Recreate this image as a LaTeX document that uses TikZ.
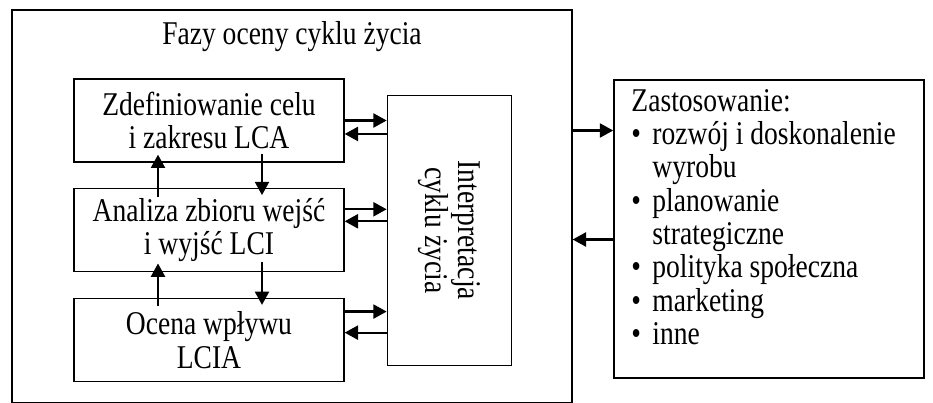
\documentclass[tikz,border=0pt]{standalone}
\usepackage{fontspec}
\setmainfont{Liberation Serif}[FakeStretch=0.83]
\usetikzlibrary{positioning,arrows.meta}

\newcommand{\pkt}{\makebox[15.75pt][l]{\textbullet}}
\newcommand{\wcz}{\hspace*{15.75pt}}

\begin{document}
\begin{tikzpicture}[
  x=0.75pt, y=-0.75pt,
  font=\fontsize{24.9pt}{25pt}\selectfont,
  frame/.style={draw, line width=1pt, minimum width=420pt, minimum height=294.75pt, inner sep=0pt},
  phase/.style={draw, line width=1pt, align=center, minimum width=202.5pt,
    minimum height=62.25pt, inner sep=0pt},
  interp/.style={draw, line width=1pt, minimum width=93pt, minimum height=202.5pt, inner sep=0pt},
  usebox/.style={draw, line width=1.2pt, minimum width=232.5pt, minimum height=223.5pt, inner sep=0pt},
  flow/.style={-{Triangle[length=10pt,width=10.5pt]}, line width=1.7pt},
  >=Triangle
]
\useasboundingbox (0,0) rectangle (933,403);
\node[frame] (frame) at (292,206.5) {};
\node (title) at (292,37) {Fazy oceny cyklu życia};
\node[phase] (def) at (209,120.5) {Zdefiniowanie celu\\i zakresu LCA};
\node[phase, below=19.1pt of def] (inv) {Analiza zbioru wejść\\i wyjść LCI};
\node[phase, below=19.1pt of inv] (imp) {Ocena wpływu\\LCIA};
\node[interp, right=31.5pt of inv] (interp) {};
\node[rotate=-90, align=center] (interptxt) at (interp) {Interpretacja\\cyklu życia};
\node[usebox] (zast) at (769,229) {};
\node[anchor=north west, align=left, inner sep=0pt] (zastlist)
  at ([xshift=13.5pt, yshift=-7.3pt]zast.north west)
  {Zastosowanie:\\
   \pkt rozwój i doskonalenie\\
   \wcz wyrobu\\
   \pkt planowanie\\
   \wcz strategiczne\\
   \pkt polityka społeczna\\
   \pkt marketing\\
   \pkt inne};
% phases <-> interpretation
\draw[flow] (def.east) -- (def.east -| interp.west);
\draw[flow] ([yshift=-10.1pt]def.east -| interp.west) -- ([yshift=-10.1pt]def.east);
\draw[flow] ([yshift=15.75pt]inv.east) -- ([yshift=15.75pt]inv.east -| interp.west);
\draw[flow] ([yshift=6.75pt]inv.east -| interp.west) -- ([yshift=6.75pt]inv.east);
\draw[flow] ([yshift=21.4pt]imp.east) -- ([yshift=21.4pt]imp.east -| interp.west);
\draw[flow] ([yshift=5.6pt]imp.east -| interp.west) -- ([yshift=5.6pt]imp.east);
% between phases
\draw[flow] ([xshift=-38.25pt, yshift=-6.75pt]inv.north) -- ([xshift=-38.25pt, yshift=6pt]def.south);
\draw[flow] ([xshift=39.75pt, yshift=6.75pt]def.south) -- ([xshift=39.75pt, yshift=-5.25pt]inv.north);
\draw[flow] ([xshift=-38.25pt, yshift=-6pt]imp.north) -- ([xshift=-38.25pt, yshift=6.75pt]inv.south);
\draw[flow] ([xshift=39.75pt, yshift=7.5pt]inv.south) -- ([xshift=39.75pt, yshift=-5.25pt]imp.north);
% frame <-> applications
\draw[flow] ([yshift=57pt]frame.east) -- ([yshift=57pt]frame.east -| zast.west);
\draw[flow] ([yshift=-24.75pt]frame.east -| zast.west) -- ([yshift=-24.75pt]frame.east);
\end{tikzpicture}
\end{document}
